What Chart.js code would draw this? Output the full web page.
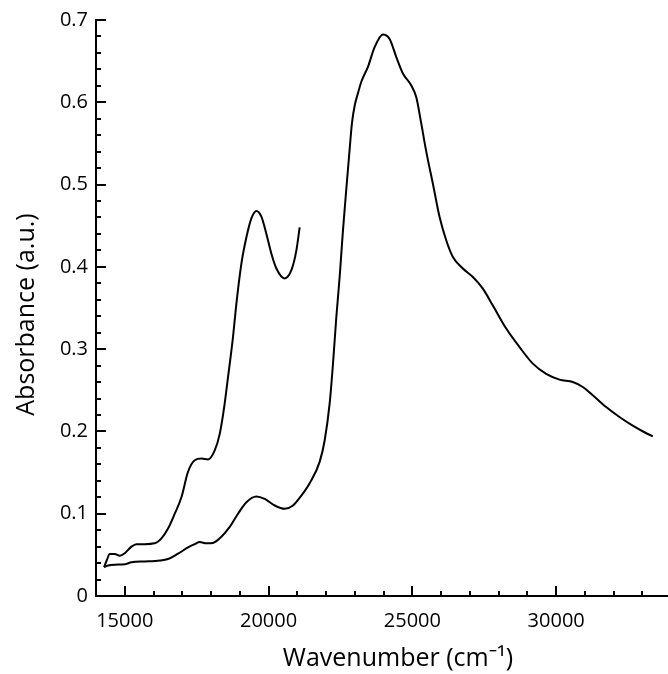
<!DOCTYPE html>
<html><head><meta charset="utf-8">
<script src="https://cdn.jsdelivr.net/npm/chart.js@4/dist/chart.umd.min.js"></script>
<style>
html,body{margin:0;padding:0;background:#fff;overflow:hidden;width:668px;height:674px}
#wrap{width:668px;height:674px;overflow:hidden;position:relative;background:#fff}
canvas{display:block}
</style></head>
<body><div id="wrap"><canvas id="c" width="700" height="674" style="width:700px;height:674px"></canvas></div>
<script>
// Curve A (ends near 21000 cm-1)
const wnA = [14281,14380,14480,14653,14827,15000,15233,15406,15696,16043,16275,16505,16738,16970,17200,17433,17666,17895,18128,18302,18450,18590,18764,18880,19055,19229,19403,19577,19750,19924,20098,20272,20560,20793,20967,21081];
const absA = [0.035,0.044,0.051,0.051,0.049,0.052,0.060,0.063,0.063,0.064,0.070,0.082,0.100,0.120,0.151,0.165,0.167,0.166,0.177,0.197,0.228,0.266,0.315,0.355,0.404,0.436,0.459,0.468,0.461,0.440,0.416,0.398,0.386,0.396,0.420,0.448];
// Curve B (full range)
const wnB = [14281,14420,14653,15000,15233,15696,16043,16505,16853,17200,17433,17607,17840,18069,18360,18649,18937,19229,19577,19865,20213,20560,20849,21140,21429,21776,21950,22124,22239,22356,22472,22586,22704,22819,22900,23000,23100,23225,23455,23687,23976,24209,24441,24671,24963,25136,25310,25483,25713,25946,26179,26408,26755,27103,27450,27798,28263,28725,29188,29653,30115,30578,30925,31272,31738,32200,32662,33068,33358];
const absB = [0.035,0.037,0.038,0.0385,0.041,0.042,0.0425,0.045,0.0515,0.059,0.063,0.0656,0.064,0.0645,0.072,0.084,0.100,0.114,0.121,0.118,0.110,0.106,0.110,0.122,0.137,0.163,0.189,0.234,0.282,0.339,0.388,0.444,0.495,0.543,0.575,0.597,0.610,0.625,0.643,0.667,0.6825,0.677,0.655,0.635,0.6205,0.606,0.574,0.540,0.501,0.4605,0.432,0.412,0.398,0.3876,0.3735,0.353,0.325,0.3025,0.2824,0.270,0.263,0.260,0.254,0.244,0.2296,0.2175,0.207,0.199,0.194];
const xLabels = [15000,20000,25000,30000];
const yLabels = [0,0.1,0.2,0.3,0.4,0.5,0.6,0.7];

const toPts = (xs, ys) => xs.map((x, i) => ({x, y: ys[i]}));
const FONT = '"Open Sans", "Noto Sans", sans-serif';

const innerTicks = {
  id: 'innerTicks',
  afterDraw(chart) {
    const {ctx, chartArea, scales} = chart;
    ctx.save();
    ctx.strokeStyle = '#000';
    ctx.lineWidth = 2;
    const xs = scales.x, ys = scales.y;
    xs.ticks.forEach(t => {
      const px = Math.round(xs.getPixelForValue(t.value));
      const major = Math.round(t.value) % 5000 === 0;
      const len = major ? 10 : 5;
      ctx.beginPath();
      ctx.moveTo(px, chartArea.bottom);
      ctx.lineTo(px, chartArea.bottom - len);
      ctx.stroke();
    });
    ys.ticks.forEach(t => {
      const py = Math.round(ys.getPixelForValue(t.value));
      const major = Math.abs(t.value * 10 - Math.round(t.value * 10)) < 1e-6;
      const len = major ? 10 : 5;
      ctx.beginPath();
      ctx.moveTo(chartArea.left, py);
      ctx.lineTo(chartArea.left + len, py);
      ctx.stroke();
    });
    ctx.restore();
  }
};

new Chart(document.getElementById('c'), {
  type: 'line',
  data: {
    datasets: [
      {data: toPts(wnA, absA), borderColor: '#000', borderWidth: 2, pointRadius: 0, pointHoverRadius: 0, cubicInterpolationMode: 'monotone', fill: false},
      {data: toPts(wnB, absB), borderColor: '#000', borderWidth: 2, pointRadius: 0, pointHoverRadius: 0, cubicInterpolationMode: 'monotone', fill: false}
    ]
  },
  options: {
    responsive: false,
    devicePixelRatio: 1,
    animation: false,
    layout: {autoPadding: false, padding: {top: 20, left: 0, right: 0, bottom: 0}},
    plugins: {legend: {display: false}, tooltip: {enabled: false}},
    scales: {
      x: {
        type: 'linear', min: 14000, max: 35000,
        afterFit(s) { s.height = 78; s.paddingLeft = 0; s.paddingRight = 0; },
        grid: {display: true, drawOnChartArea: false, drawTicks: false},
        border: {display: true, color: '#000', width: 2},
        ticks: {
          stepSize: 1000, autoSkip: false, maxRotation: 0, padding: 13,
          color: '#000', font: {family: FONT, size: 20},
          callback: v => xLabels.includes(Math.round(v)) ? String(Math.round(v)) : ''
        },
        title: {display: true, text: 'Wavenumber (cm\u207B\u00B9)', color: '#000', font: {family: FONT, size: 25}, padding: {top: 0, bottom: 0}}
      },
      y: {
        type: 'linear', min: 0, max: 0.7,
        afterFit(s) { s.width = 96; s.paddingTop = 0; s.paddingBottom = 0; },
        grid: {display: true, drawOnChartArea: false, drawTicks: false},
        border: {display: true, color: '#000', width: 2},
        ticks: {
          stepSize: 0.02, autoSkip: false, padding: 8,
          color: '#000', font: {family: FONT, size: 20},
          callback: v => {
            const r = Math.round(v * 10);
            if (Math.abs(v * 10 - r) > 1e-6) return '';
            const lab = yLabels.find(l => Math.abs(l - r / 10) < 1e-9);
            return lab === undefined ? '' : String(lab);
          }
        },
        title: {display: true, text: 'Absorbance (a.u.)  ', color: '#000', font: {family: FONT, size: 25}, padding: {top: 12, bottom: 0}}
      }
    }
  },
  plugins: [innerTicks]
});
</script></body></html>
